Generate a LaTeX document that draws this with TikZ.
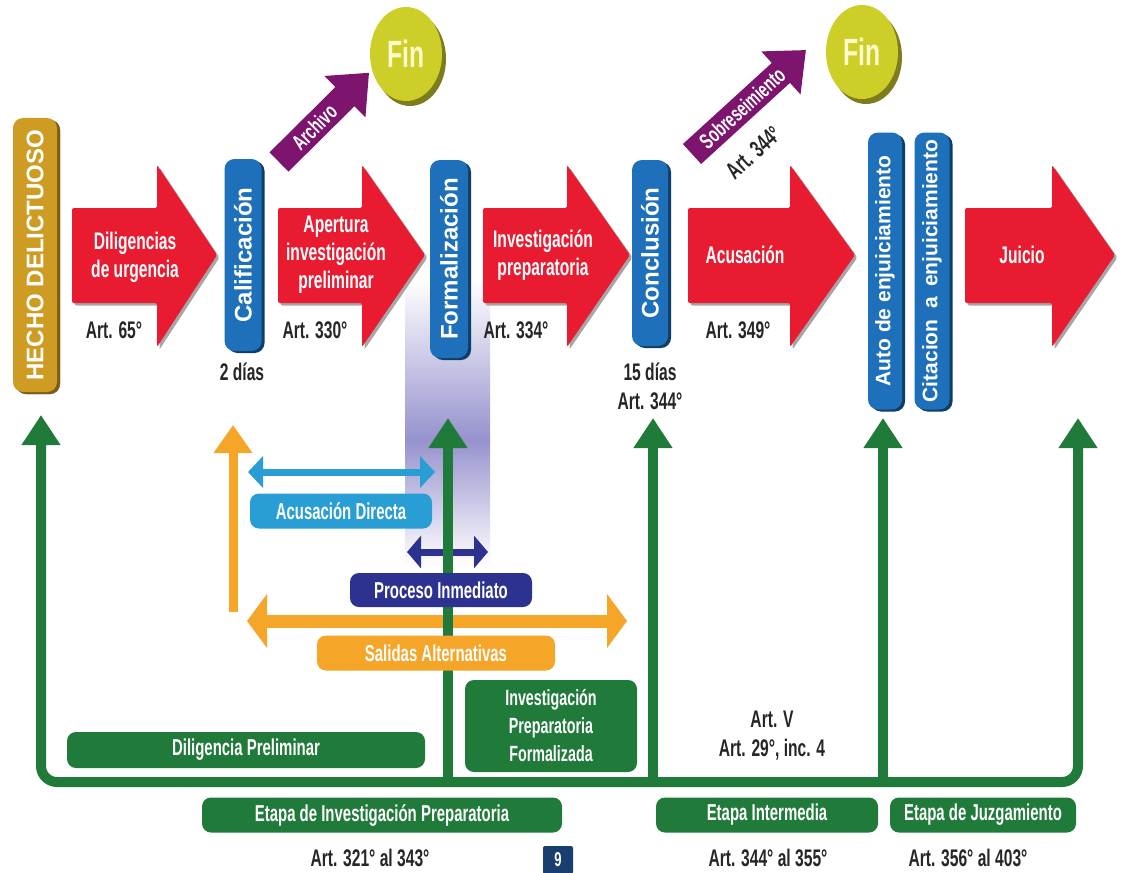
\documentclass[tikz,border=0pt]{standalone}
\usepackage{fontspec}
\setmainfont{Liberation Sans}
\newfontfamily\condfont{Liberation Sans}[FakeStretch=0.65]
\usetikzlibrary{arrows.meta,shapes.geometric}

\definecolor{hechogold}{RGB}{206,156,34}
\definecolor{stepred}{RGB}{232,27,48}
\definecolor{boxblue}{RGB}{30,112,186}
\definecolor{finyellow}{RGB}{206,206,40}
\definecolor{finshadow}{RGB}{125,125,30}
\definecolor{finwhite}{RGB}{252,250,205}
\definecolor{archpurple}{RGB}{125,20,110}
\definecolor{etapagreen}{RGB}{32,122,58}
\definecolor{directblue}{RGB}{40,158,212}
\definecolor{inmednavy}{RGB}{45,50,145}
\definecolor{salorange}{RGB}{245,166,40}
\definecolor{gradpurple}{RGB}{150,146,206}
\definecolor{pagenavy}{RGB}{25,62,112}

\tikzset{
  dropgray/.style={preaction={fill=black!35, transform canvas={xshift=2.5pt,yshift=-2.5pt}}},
  vbox/.style={fill=boxblue, rounded corners=10pt, inner sep=0pt, text=white,
    font=\bfseries\fontsize{24}{24}\selectfont,
    preaction={fill=boxblue!55!black, transform canvas={xshift=3pt,yshift=-2pt}}},
  steptext/.style={text=white, align=center, font=\condfont\bfseries\fontsize{24}{28}\selectfont},
  artlabel/.style={text=black!85, align=center, font=\condfont\bfseries\fontsize{24}{29}\selectfont},
  tagbox/.style={rounded corners=9pt, inner sep=0pt, text=white, align=center,
    font=\condfont\bfseries\fontsize{23}{28}\selectfont},
  finnode/.style={ellipse, fill=finyellow, minimum width=72pt, minimum height=94pt, text=finwhite,
    font=\condfont\bfseries\fontsize{38}{38}\selectfont,
    preaction={fill=finshadow, transform canvas={xshift=4pt,yshift=-5pt}}},
  purpletext/.style={text=white, font=\condfont\bfseries\fontsize{22}{22}\selectfont},
  stageline/.style={draw=etapagreen, line width=10pt},
  greentip/.tip={Triangle[width=37pt,length=30pt]}
}

% red step arrow: left end, start of head, tip
\newcommand{\steparrow}[3]{%
  \fill[stepred, dropgray, rounded corners=2pt] (#1,208) -- (#2,208) -- (#2,165) -- (#3,255)
    -- (#2,347) -- (#2,303) -- (#1,303) -- cycle;}

\begin{document}
\begin{tikzpicture}[x=1pt,y=-1pt]
\fill[white] (0,0) rectangle (1123,872);
\useasboundingbox (0,0) rectangle (1123,872);

% band behind Formalizacion
\fill[top color=white, bottom color=gradpurple] (405,280) rectangle (490,440);
\fill[top color=gradpurple, bottom color=white] (405,440) rectangle (490,565);

% coordinates for the lower arrows
\coordinate (up1) at (41,415);
\coordinate (low1) at (41,782);
\coordinate (up2) at (448,418);
\coordinate (low2) at (448,782);
\coordinate (up3) at (653,418);
\coordinate (low3) at (653,782);
\coordinate (up4) at (883,418);
\coordinate (low4) at (883,782);
\coordinate (up6) at (1078,418);
\coordinate (low6) at (1078,782);
\coordinate (salup) at (233,425);
\coordinate (saldown) at (233,612);
\coordinate (salL) at (247,621);
\coordinate (salR) at (627,621);
\coordinate (dirL) at (248,472);
\coordinate (dirR) at (435,472);
\coordinate (inmL) at (407,552);
\coordinate (inmR) at (488,552);

\draw[salorange, line width=9pt, -{Triangle[width=37pt,length=28pt]}] (saldown) -- (salup);
\draw[directblue, line width=7pt, {Triangle[width=31pt,length=15pt]}-{Triangle[width=31pt,length=15pt]}] (dirL) -- (dirR);
\draw[inmednavy, line width=7pt, {Triangle[width=32pt,length=14pt]}-{Triangle[width=32pt,length=14pt]}] (inmL) -- (inmR);
\draw[salorange, line width=13pt, {Triangle[width=53pt,length=20pt]}-{Triangle[width=53pt,length=20pt]}] (salL) -- (salR);

\draw[stageline, greentip-greentip, rounded corners=16pt] (up1) -- (low1) -- (low6) -- (up6);
\draw[stageline, -greentip] (low2) -- (up2);
\draw[stageline, -greentip] (low3) -- (up3);
\draw[stageline, -greentip] (low4) -- (up4);

% boxes of the lower part
\node[tagbox, fill=directblue, minimum width=182pt, minimum height=35pt] (acdir) at (341,511) {Acusación Directa};
\node[tagbox, fill=inmednavy, minimum width=182pt, minimum height=34pt] (procinm) at (441,590) {Proceso Inmediato};
\node[tagbox, fill=salorange, minimum width=238pt, minimum height=35pt] (salalt) at (436,653) {Salidas Alternativas};
\node[tagbox, fill=etapagreen, minimum width=358pt, minimum height=36pt] (dilprel) at (246,750) {Diligencia Preliminar};
\node[tagbox, fill=etapagreen, minimum width=172pt, minimum height=92pt, font=\condfont\bfseries\fontsize{22}{28}\selectfont] (ipf) at (551,726) {Investigación\\Preparatoria\\Formalizada};
\node[artlabel] (artv) at (772,736) {Art. V\\Art. 29°, inc. 4};

\node[tagbox, fill=etapagreen, minimum width=360pt, minimum height=35pt] (etapaip) at (382,815) {Etapa de Investigación Preparatoria};
\node[tagbox, fill=etapagreen, minimum width=222pt, minimum height=35pt] (etapaint) at (767,815) {Etapa Intermedia};
\node[tagbox, fill=etapagreen, minimum width=186pt, minimum height=35pt] (etapajuz) at (983,815) {Etapa de Juzgamiento};

\node[artlabel] (art321) at (370,858) {Art. 321° al 343°};
\node[artlabel] (art344b) at (768,858) {Art. 344° al 355°};
\node[artlabel] (art356) at (968,858) {Art. 356° al 403°};
\node[tagbox, rounded corners=2pt, fill=pagenavy, minimum width=30pt, minimum height=28pt, font=\condfont\bfseries\fontsize{20}{20}\selectfont] (pagina) at (558,860) {9};

% top row
\steparrow{72}{157}{217}
\steparrow{278}{362}{425}
\steparrow{483}{567}{630}
\steparrow{688}{790}{855}
\steparrow{965}{1052}{1115}

\node[steptext] (dilig) at (135,257) {Diligencias\\de urgencia};
\node[steptext] (apert) at (336,255) {Apertura\\investigación\\preliminar};
\node[steptext] (invprep) at (543,255) {Investigación\\preparatoria};
\node[steptext] (acus) at (745,255) {Acusación};
\node[steptext] (juicio) at (1022,255) {Juicio};

\node[vbox, fill=hechogold, minimum width=44pt, minimum height=274pt,
  preaction={fill=hechogold!60!black, transform canvas={xshift=3pt,yshift=-2pt}}] (hecho) at (35,255) {\rotatebox{90}{HECHO DELICTUOSO}};
\node[vbox, minimum width=37pt, minimum height=192pt] (calif) at (243,255) {\rotatebox{90}{Calificación}};
\node[vbox, minimum width=38pt, minimum height=198pt] (formal) at (449,259) {\rotatebox{90}{Formalización}};
\node[vbox, minimum width=36pt, minimum height=186pt] (concl) at (650,253) {\rotatebox{90}{Conclusión}};
\node[vbox, minimum width=34pt, minimum height=277pt, font=\bfseries\fontsize{21}{21}\selectfont] (autoenj) at (885,271) {\rotatebox{90}{Auto de enjuiciamiento}};
\node[vbox, minimum width=35pt, minimum height=277pt, font=\bfseries\fontsize{21}{21}\selectfont] (citac) at (932,271) {\rotatebox{90}{Citacion\hspace{0.5em}a\hspace{0.5em}enjuiciamiento}};

\node[artlabel] (art65) at (114,330) {Art. 65°};
\node[artlabel] (art330) at (315,330) {Art. 330°};
\node[artlabel] (art334) at (516,330) {Art. 334°};
\node[artlabel] (art349) at (738,330) {Art. 349°};
\node[artlabel] (dias2) at (242,372) {2 días};
\node[artlabel] (dias15) at (650,386) {15 días\\Art. 344°};

% Fin and the exits
\node[finnode] (fin1) at (406,54) {Fin};
\node[finnode] (fin2) at (862,52) {Fin};

\coordinate (arcS) at (279,162);
\coordinate (sobS) at (692,154);
\coordinate (sobE) at (806,50);
\draw[archpurple, line width=27pt, -{Triangle[width=56pt,length=34pt]}, shorten >=4pt] (arcS) -- node[pos=.38, sloped, purpletext] (archivo) {Archivo} (fin1.205);
\draw[archpurple, line width=27pt, -{Triangle[width=56pt,length=34pt]}] (sobS) -- node[pos=.44, sloped, purpletext] (sobres) {Sobreseimiento}
  node[pos=.3, sloped, below=15pt, artlabel] (art344a) {Art. 344°} (sobE);
\end{tikzpicture}
\end{document}
